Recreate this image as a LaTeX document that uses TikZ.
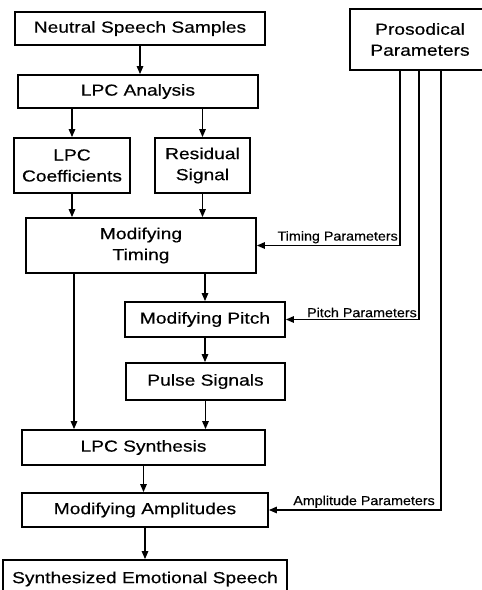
\documentclass[tikz,border=0pt]{standalone}
\usepackage{fontspec}
\usepackage{tikz}
\usetikzlibrary{arrows.meta,positioning,shadows}
\newfontfamily\boxfont{Liberation Sans}[FakeStretch=1.2,FakeBold=0.4]
\newfontfamily\lblfont{Liberation Sans}[FakeStretch=1.1,FakeBold=0.3]

\begin{document}
\begin{tikzpicture}[
    x=1pt, y=1pt,
    box/.style={rectangle, draw, fill=white, line width=1.8pt, align=center, inner sep=1pt,
        font=\boxfont\fontsize{16}{21}\selectfont,
        drop shadow={shadow xshift=1.4pt, shadow yshift=-1.4pt, fill=black, opacity=1}},
    plabel/.style={font=\lblfont\fontsize{13}{15}\selectfont, inner sep=1.5pt},
    arrow/.style={-{Triangle[length=8pt,width=6.5pt]}, line width=1.4pt}
]
\useasboundingbox (0,0) rectangle (482,-590);

% Analysis part
\node[box, minimum width=250pt, minimum height=33pt] (samples) at (140,-28.5) {Neutral Speech Samples};
\node[box, minimum width=240pt, minimum height=33pt] (analysis) at (138,-91.5) {LPC Analysis};
\node[box, minimum width=116pt, minimum height=55pt] (coeffs) at (72,-165.5) {LPC\\Coefficients};
\node[box, minimum width=95pt, minimum height=55pt] (residual) at (202.5,-165.5) {Residual\\Signal};

% Prosody input
\node[box, minimum width=140pt, minimum height=61pt] (prosody) at (420,-39.5) {Prosodical\\Parameters};

% Modification and synthesis
\node[box, minimum width=230pt, minimum height=55pt] (timing) at (141,-245.5) {Modifying\\Timing};
\node[box, minimum width=160pt, minimum height=35pt] (pitch) at (205,-319.5) {Modifying Pitch};
\node[box, minimum width=159pt, minimum height=37pt] (pulse) at (205.5,-381.5) {Pulse Signals};
\node[box, minimum width=243pt, minimum height=35pt] (synthesis) at (143.5,-447.5) {LPC Synthesis};
\node[box, minimum width=246pt, minimum height=34pt] (amplitude) at (145,-510) {Modifying Amplitudes};

% Final output
\node[box, minimum width=284pt, minimum height=38pt] (output) at (145,-579) {Synthesized Emotional Speech};

% Arrows
\draw[arrow] (samples.south) -- (samples.south |- analysis.north);
\draw[arrow] (coeffs.north |- analysis.south) -- (coeffs.north);
\draw[arrow] (residual.north |- analysis.south) -- (residual.north);
\draw[arrow] (coeffs.south) -- (coeffs.south |- timing.north);
\draw[arrow] (residual.south) -- (residual.south |- timing.north);
\draw[arrow] (pitch.north |- timing.south) -- (pitch.north);
\draw[arrow] (pitch.south) -- (pitch.south |- pulse.north);
\draw[arrow] ([xshift=2pt]coeffs.south |- timing.south) -- ([xshift=2pt]coeffs.south |- synthesis.north);
\draw[arrow] (pulse.south) -- (pulse.south |- synthesis.north);
\draw[arrow] (synthesis.south) -- (synthesis.south |- amplitude.north);
\draw[arrow] (amplitude.south) -- (amplitude.south |- output.north);

\draw[arrow] ([xshift=-20pt]prosody.south) |- node[plabel, pos=0.5, above left] {Timing Parameters} (timing.east);
\draw[arrow] ([xshift=-1pt]prosody.south) |- node[plabel, pos=0.5, above left] {Pitch Parameters} (pitch.east);
\draw[arrow] ([xshift=21pt]prosody.south) |- node[plabel, pos=0.5, above left, xshift=-4pt] {Amplitude Parameters} (amplitude.east);

\end{tikzpicture}
\end{document}
